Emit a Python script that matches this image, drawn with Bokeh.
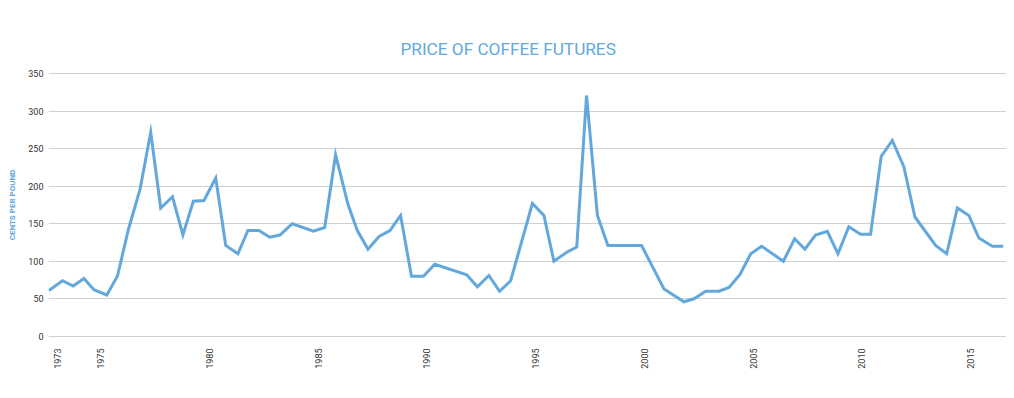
from bokeh.plotting import figure
from bokeh.models import Range1d, FixedTicker
from bokeh.embed import file_html
from bokeh.resources import INLINE
import math

years = [1972.62, 1973.24, 1973.74, 1974.23, 1974.69, 1975.28, 1975.77, 1976.27, 1976.81, 1977.30,
         1977.76, 1978.30, 1978.78, 1979.26, 1979.75, 1980.29, 1980.75, 1981.31, 1981.77, 1982.28,
         1982.77, 1983.24, 1983.81, 1984.78, 1985.30, 1985.80, 1986.37, 1986.80, 1987.29, 1987.80,
         1988.30, 1988.79, 1989.29, 1989.84, 1990.36, 1991.83, 1992.32, 1992.85, 1993.34, 1993.85,
         1994.85, 1995.38, 1995.84, 1996.43, 1996.89, 1997.34, 1997.84, 1998.32, 1999.87, 2000.90,
         2001.82, 2002.28, 2002.82, 2003.43, 2003.89, 2004.39, 2004.89, 2005.39, 2006.39, 2006.91,
         2007.38, 2007.87, 2008.41, 2008.90, 2009.40, 2009.94, 2010.40, 2010.89, 2011.40, 2011.93,
         2012.44, 2013.39, 2013.90, 2014.39, 2014.92, 2015.38, 2016.00, 2016.50]
cents = [61, 74, 67, 77, 62, 55, 80, 142, 196, 272,
         171, 186, 135, 180, 181, 211, 121, 110, 141, 141,
         132, 135, 150, 140, 145, 242, 176, 141, 116, 133,
         141, 161, 80, 80, 96, 82, 66, 81, 60, 74,
         177, 161, 100, 112, 119, 321, 161, 121, 121, 63,
         46, 50, 60, 60, 65, 82, 110, 120, 100, 130,
         116, 135, 140, 110, 146, 136, 136, 240, 261, 226,
         159, 121, 110, 171, 161, 131, 120, 120]

x_ticks = [1973, 1975, 1980, 1985, 1990, 1995, 2000, 2005, 2010, 2015]
x_tick_labels = ["1973", "1975", "1980", "1985", "1990", "1995", "2000", "2005", "2010", "2015"]
y_ticks = [0, 50, 100, 150, 200, 250, 300, 350]

BLUE = "#62a8dc"
FONT = "Roboto"

p = figure(width=1014, height=398, output_backend="svg", toolbar_location=None,
           x_range=Range1d(1972.6, 2016.65), y_range=Range1d(-3, 353),
           min_border_left=48, min_border_right=8, min_border_top=71, min_border_bottom=60,
           title="PRICE OF COFFEE FUTURES")
p.outline_line_color = None

p.title.align = "left"
p.title.text_color = BLUE
p.title.text_font = FONT
p.title.text_font_style = "normal"
p.title.text_font_size = "17.2px"
p.title.standoff = 25
p.title.offset = 352

p.line(years, cents, line_color=BLUE, line_width=3, line_join="miter")

p.xgrid.grid_line_color = None
p.ygrid.grid_line_color = "#d0d0d0"
p.ygrid.grid_line_width = 1

p.xaxis.ticker = FixedTicker(ticks=x_ticks)
p.xaxis.major_label_overrides = {t: s for t, s in zip(x_ticks, x_tick_labels)}
p.xaxis.major_label_orientation = math.pi / 2
p.yaxis.ticker = FixedTicker(ticks=y_ticks)
p.yaxis.axis_label = "CENTS PER POUND"

for ax in (p.xaxis, p.yaxis):
    ax.axis_line_color = None
    ax.major_tick_line_color = None
    ax.minor_tick_line_color = None
    ax.major_tick_out = 0
    ax.major_label_text_font = FONT
    ax.major_label_text_color = "#333333"

p.xaxis.major_label_text_font_size = "9px"
p.xaxis.major_label_standoff = 10
p.yaxis.major_label_text_font_size = "9px"
p.yaxis.major_label_standoff = 5
p.yaxis.axis_label_text_font = FONT
p.yaxis.axis_label_text_font_size = "8px"
p.yaxis.axis_label_text_font_style = "bold"
p.yaxis.axis_label_text_color = BLUE
p.yaxis.axis_label_standoff = 8

open("out.html", "w").write(file_html(p, INLINE))
